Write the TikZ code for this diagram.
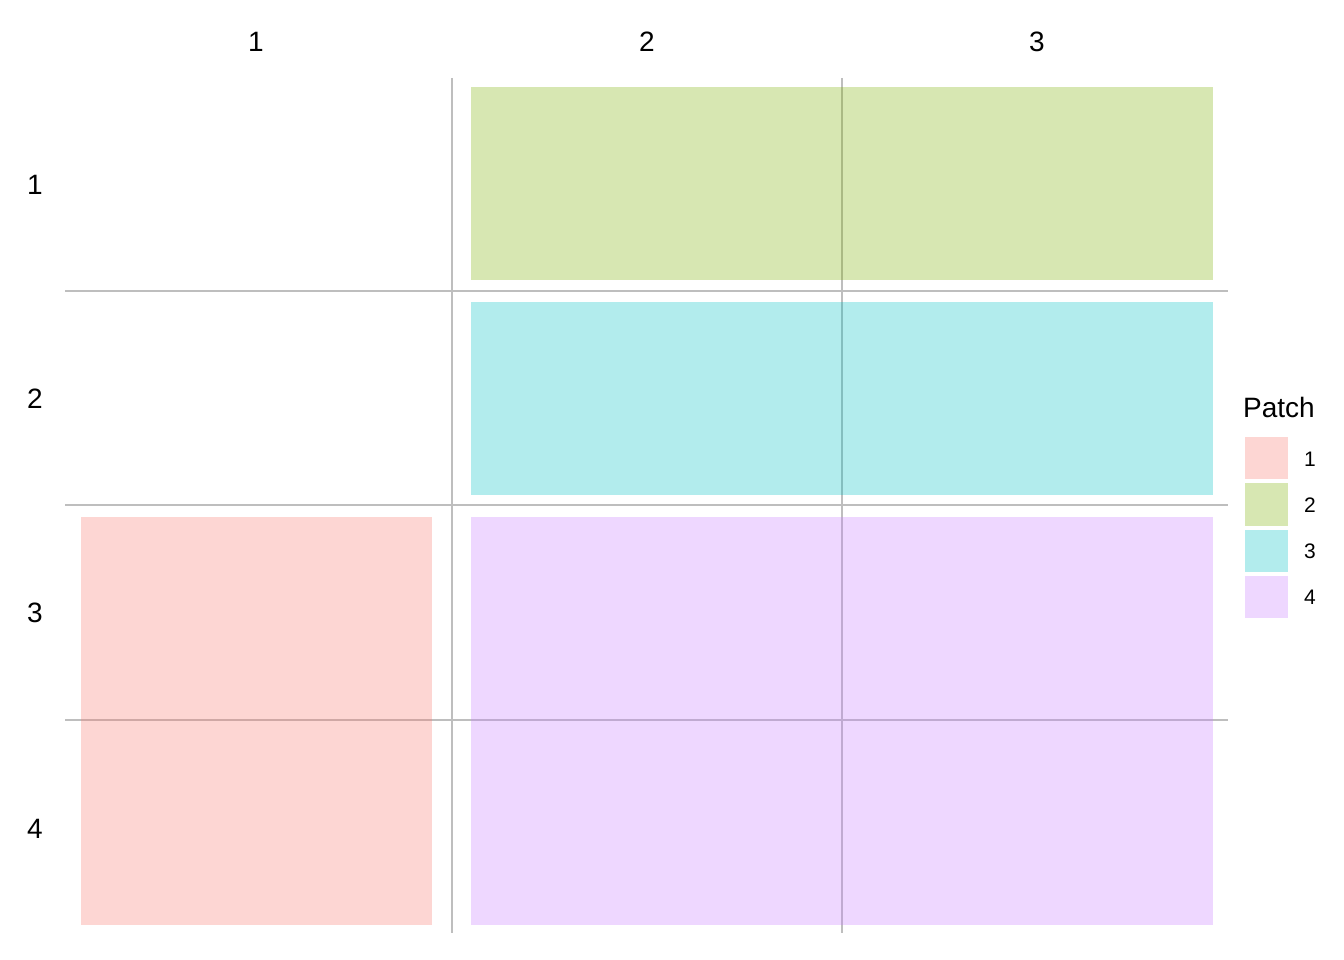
\documentclass[tikz,border=0pt]{standalone}
\usepackage{fontspec}
\setmainfont{Liberation Sans}
\definecolor{p1}{HTML}{F8766D}
\definecolor{p2}{HTML}{7CAE00}
\definecolor{p3}{HTML}{00BFC4}
\definecolor{p4}{HTML}{C77CFF}
\definecolor{gridgray}{HTML}{BEBEBE}
\tikzset{
  gridline/.style={draw=gridgray, line width=2.8pt},
  patch/.style={fill opacity=0.3},
  axislab/.style={font=\fontsize{28}{30}\selectfont, inner sep=0pt, anchor=center},
  keylab/.style={font=\fontsize{21}{22}\selectfont, inner sep=0pt, anchor=center},
  titlelab/.style={font=\fontsize{28}{30}\selectfont, inner sep=0pt, anchor=west},
}
\begin{document}
\begin{tikzpicture}[x=1pt,y=-1pt]
\useasboundingbox (0,0) rectangle (1344,960);
% grid lines
\draw[gridline] (452,78) -- (452,933);
\draw[gridline] (842,78) -- (842,933);
\draw[gridline] (65,291) -- (1228,291);
\draw[gridline] (65,505) -- (1228,505);
\draw[gridline] (65,720) -- (1228,720);
% patches
\fill[p1, patch] (81,517) rectangle (432,925);
\fill[p2, patch] (471,87) rectangle (1213,280);
\fill[p3, patch] (471,302) rectangle (1213,495);
\fill[p4, patch] (471,517) rectangle (1213,925);
% column labels
\node[axislab] (c1) at (256,42) {1};
\node[axislab] (c2) at (647,42) {2};
\node[axislab] (c3) at (1037,42) {3};
% row labels
\node[axislab] (r1) at (35,185) {1};
\node[axislab] (r2) at (35,399) {2};
\node[axislab] (r3) at (35,613) {3};
\node[axislab] (r4) at (35,829) {4};
% legend
\node[titlelab] (ltitle) at (1243,407) {Patch};
\fill[p1, patch] (1245,437) rectangle (1288,479);
\fill[p2, patch] (1245,483) rectangle (1288,526);
\fill[p3, patch] (1245,530) rectangle (1288,572);
\fill[p4, patch] (1245,576) rectangle (1288,618);
\node[keylab] (k1) at (1310,459) {1};
\node[keylab] (k2) at (1310,505) {2};
\node[keylab] (k3) at (1310,551) {3};
\node[keylab] (k4) at (1310,597) {4};
\end{tikzpicture}
\end{document}
